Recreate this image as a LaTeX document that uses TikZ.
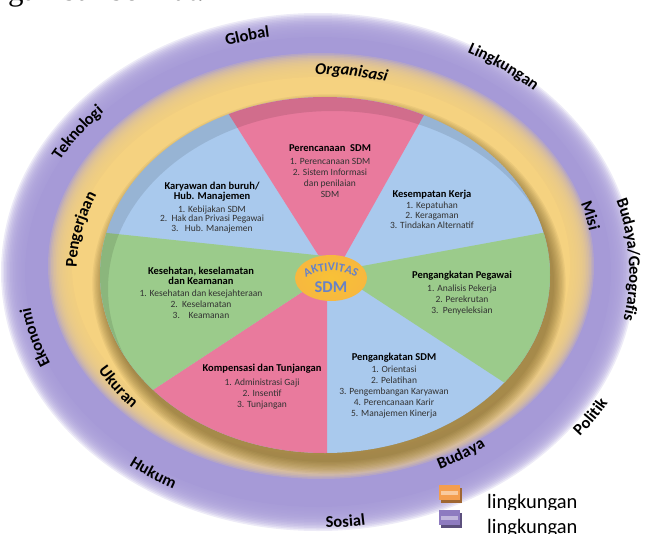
\documentclass[tikz,border=0pt]{standalone}
\usepackage{fontspec}
\setmainfont{Carlito}
\newfontfamily\captionserif{Liberation Serif}
\usetikzlibrary{shapes.geometric,decorations.text,calc}

% colours of rings, wedges and keys
\definecolor{ringpurple}{RGB}{166,154,215}
\definecolor{ringyellow}{RGB}{245,210,128}
\definecolor{rimshadow}{RGB}{100,78,30}
\definecolor{planpink}{RGB}{233,122,157}
\definecolor{sdmblue}{RGB}{169,201,237}
\definecolor{caregreen}{RGB}{155,203,139}
\definecolor{huborange}{RGB}{246,178,68}
\definecolor{hubrim}{RGB}{249,203,110}
\definecolor{hubtext}{RGB}{104,130,198}
\definecolor{itemgray}{RGB}{50,50,50}
\definecolor{keyorange}{RGB}{244,158,78}
\definecolor{keypurple}{RGB}{142,123,192}

\pgfdeclareradialshading{hubglow}{\pgfpoint{0bp}{0bp}}{color(0bp)=(huborange!80!yellow); color(40bp)=(huborange); color(47bp)=(huborange); color(50bp)=(hubrim)}

\newcommand\ringfont{\bfseries\fontsize{16.5}{17}\selectfont}
\newcommand\wtitle[1]{{\color{black}\bfseries\fontsize{10.5}{11}\selectfont #1}}

\begin{document}
\begin{tikzpicture}[x=1pt, y=-1pt,
  ring label/.style={decorate, decoration={text along path, text align=center, raise=-4pt, text={|\ringfont|#1}}},
  ring label italic/.style={decorate, decoration={text along path, text align=center, raise=-4pt, text={|\ringfont\itshape|#1}}},
  wedge text/.style={align=center, anchor=north, inner sep=0pt, text=itemgray, font=\fontsize{9.5}{11}\selectfont},
  keybox/.style={minimum width=21pt, minimum height=15pt, inner sep=0pt},
  key text/.style={anchor=base west, inner sep=0pt, font=\fontsize{20.5}{20}\selectfont}]
  \useasboundingbox (0,0) rectangle (645,533);
  \clip (0,0) rectangle (645,533);

  \coordinate (ring) at (318,272);
  \coordinate (glow) at (321,266);
  \coordinate (pie) at (325,275);

  % line of text above, cut at the top edge
  \node[anchor=base west, inner sep=0pt, font=\captionserif\fontsize{31}{31}\selectfont] (caption) at (8,0.5) {gambar berikut.};

  % outer environment, soft edge
  \foreach \k in {0,...,15}
    \fill[ringpurple, opacity=0.2] (ring) ellipse [x radius=317-1.5*\k, y radius=259-1.5*\k];
  \fill[ringpurple] (ring) ellipse [x radius=293, y radius=235];
  % inner environment
  \foreach \k in {0,...,15}
    \fill[ringyellow, opacity=0.2] (glow) ellipse [x radius=273-1.5*\k, y radius=213-1.5*\k];
  \fill[ringyellow] (glow) ellipse [x radius=249, y radius=189];

  % shadow of the disc
  \foreach \k in {0,...,9}
    \fill[rimshadow, opacity=0.07] ($(pie)+(4,9)$) ellipse [x radius=225+1.3*\k, y radius=178+1.3*\k];

  % activity disc
  \begin{scope}
    \clip (pie) ellipse [x radius=225, y radius=178];
    \fill[sdmblue] (0,0) rectangle (645,533);
    \fill[planpink] (329,272) -- (195,61) -- (452,65) -- (336,272) -- cycle;
    \fill[planpink] (325,277) -- (14,481) -- (14,540) -- (327,540) -- (327,290) -- cycle;
    \fill[caregreen] (325,256) -- (60,228) -- (14,481) -- (325,277) -- cycle;
    \fill[caregreen] (335,272) -- (560,419) -- (640,300) -- (618,219) -- (335,271) -- cycle;
    % darker rim on the upper edge
    \fill[black, opacity=0.1, even odd rule] (pie) ellipse [x radius=225, y radius=178]
      ($(pie)+(8,14)$) ellipse [x radius=225, y radius=178];
  \end{scope}

  % centre
  \node[ellipse, shade, shading=hubglow, minimum width=72pt, minimum height=46pt, inner sep=0pt] (hub) at (331,278) {};
  \path[decorate, decoration={text along path, text align=center, text color=hubtext,
      text={|\bfseries\fontsize{12}{12}\selectfont|AKTIVITAS}}]
    (300,282) .. controls (315,267) and (347,267) .. (362,282);
  \node[inner sep=0pt, text=hubtext, font=\bfseries\fontsize{16.5}{17}\selectfont] (sdm) at (331,287) {SDM};

  % wedges
  \node[wedge text] (planning) at (330,144.5) {\wtitle{Perencanaan\ \ SDM}\\[2pt]
    1. Perencanaan SDM\\ 2. Sistem Informasi\\ dan penilaian\\ SDM};
  \node[wedge text, font=\fontsize{9.5}{9.8}\selectfont] (relations) at (212,181.5) {\wtitle{Karyawan dan buruh/}\\[0.5pt]\wtitle{Hub. Manajemen}\\[3pt]
    1. Kebijakan SDM\\ 2.\ \ Hak dan Privasi Pegawai\\ 3.\ \ \ Hub. Manajemen};
  \node[wedge text, font=\fontsize{9.5}{9.8}\selectfont] (opportunity) at (432,189.5) {\wtitle{Kesempatan Kerja}\\[2pt]
    1. Kepatuhan\\ 2. Keragaman\\ 3. Tindakan Alternatif};
  \node[wedge text] (safety) at (201,266.5) {\wtitle{Kesehatan, keselamatan}\\[-0.5pt]\wtitle{dan Keamanan}\\[1pt]
    1. Kesehatan dan kesejahteraan\\ 2.\ \ Keselamatan\\ 3.\ \ \ \ Keamanan};
  \node[wedge text] (staffing) at (462,270.5) {\wtitle{Pengangkatan Pegawai}\\[2pt]
    1. Analisis Pekerja\\ 2. Perekrutan\\ 3.\ \ Penyeleksian};
  \node[wedge text] (pay) at (262,363.5) {\wtitle{Kompensasi dan Tunjangan}\\[3pt]
    1. Administrasi Gaji\\ 2. Insentif\\ 3. Tunjangan};
  \node[wedge text] (development) at (394,352.5) {\wtitle{Pengangkatan SDM}\\[1pt]
    1. Orientasi\\ 2. Pelatihan\\ 3. Pengembangan Karyawan\\ 4. Perencanaan Karir\\ 5. Manajemen Kinerja};

  % outer ring labels
  \path[ring label=Global] ($(ring)+(236.2:302.6 and 242)$) arc[start angle=236.2, end angle=276.2, x radius=302.6, y radius=242];
  \path[ring label=Lingkungan] ($(ring)+(286.5:317.4 and 254)$) arc[start angle=286.5, end angle=326.5, x radius=317.4, y radius=254];
  \path[ring label=Budaya/Geografis] ($(ring)+(337.3:315.3 and 252.2)$) arc[start angle=337.3, end angle=377.3, x radius=315.3, y radius=252.2];
  \path[ring label=Politik] ($(ring)+(53:328.9 and 263.1)$) arc[start angle=53, end angle=13, x radius=328.9, y radius=263.1];
  \path[ring label=Sosial] ($(ring)+(104.9:315 and 252)$) arc[start angle=104.9, end angle=64.9, x radius=315, y radius=252];
  \path[ring label=Hukum] ($(ring)+(143.8:302.3 and 241.8)$) arc[start angle=143.8, end angle=103.8, x radius=302.3, y radius=241.8];
  \path[ring label=Ekonomi] ($(ring)+(144.3:295.1 and 236.1)$) arc[start angle=144.3, end angle=184.3, x radius=295.1, y radius=236.1];
  \path[ring label=Teknologi] ($(ring)+(195.2:297.3 and 237.8)$) arc[start angle=195.2, end angle=235.2, x radius=297.3, y radius=237.8];

  % inner ring labels
  \path[ring label italic=Organisasi] ($(ring)+(257.8:252.3 and 201.9)$) arc[start angle=257.8, end angle=297.8, x radius=252.3, y radius=201.9];
  \path[ring label=Misi] ($(ring)+(326:280.2 and 224.2)$) arc[start angle=326, end angle=366, x radius=280.2, y radius=224.2];
  \path[ring label=Budaya] ($(ring)+(77.3:270.3 and 216.3)$) arc[start angle=77.3, end angle=37.3, x radius=270.3, y radius=216.3];
  \path[ring label=Ukuran] ($(ring)+(164.9:248 and 198.4)$) arc[start angle=164.9, end angle=124.9, x radius=248, y radius=198.4];
  \path[ring label=Pengerjaan] ($(ring)+(172.3:245.5 and 196.4)$) arc[start angle=172.3, end angle=212.3, x radius=245.5, y radius=196.4];

  % key
  \node[keybox, fill=keyorange!65!black] (innershade) at (451.5,495.5) {};
  \node[keybox, fill=keyorange] (innerkey) at (449.5,492.5) {};
  \fill[keyorange!55!white] ([xshift=2pt,yshift=-2pt]innerkey.west) rectangle ([xshift=-2pt,yshift=1.5pt]innerkey.east);
  \node[keybox, fill=keypurple!65!black] (outershade) at (451.5,520.5) {};
  \node[keybox, fill=keypurple] (outerkey) at (449.5,517.5) {};
  \fill[keypurple!55!white] ([xshift=2pt,yshift=-2pt]outerkey.west) rectangle ([xshift=-2pt,yshift=1.5pt]outerkey.east);
  \begin{scope}
    \clip (470,480) rectangle (645,509.5);
    \node[key text] (innerlabel) at (487,508) {lingkungan};
  \end{scope}
  \node[key text] (outerlabel) at (487,533) {lingkungan};
\end{tikzpicture}
\end{document}
